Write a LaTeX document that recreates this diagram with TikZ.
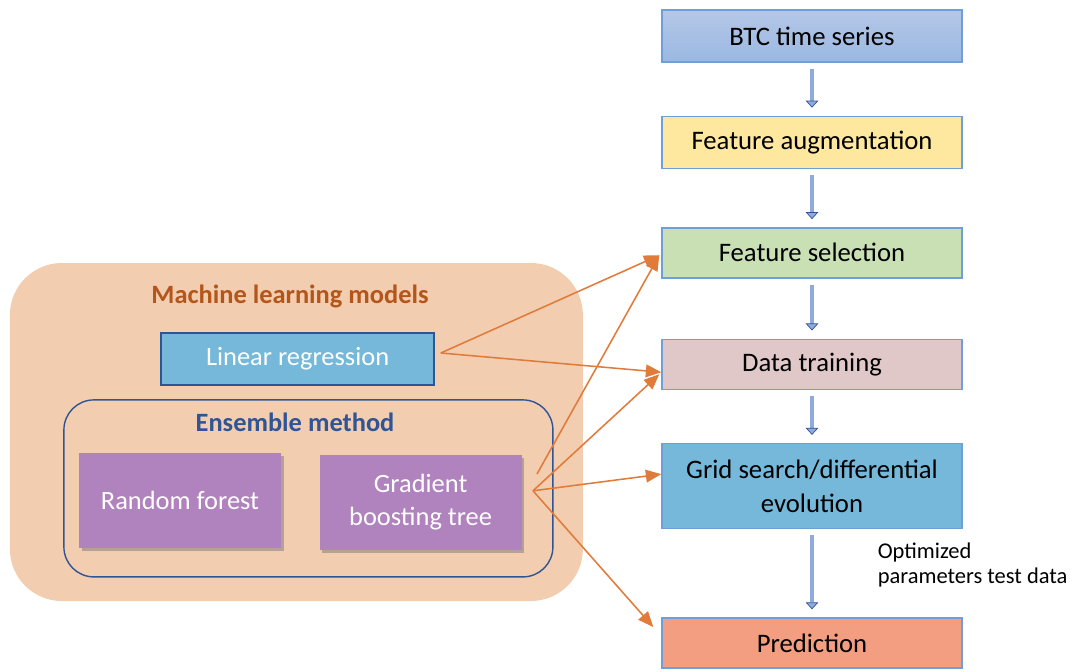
\documentclass[tikz,border=0pt]{standalone}
\usepackage{fontspec}
\setmainfont{Carlito}
\usepackage{tikz}
\usetikzlibrary{positioning,arrows.meta,shadows,calc}

\definecolor{boxline}{HTML}{6F9ED8}
\definecolor{darkblue}{HTML}{2F5597}
\definecolor{peach}{HTML}{F2CDAF}
\definecolor{lrblue}{HTML}{75B8D9}
\definecolor{purp}{HTML}{B083BE}
\definecolor{orng}{HTML}{E07B39}
\definecolor{brwn}{HTML}{B4561C}
\definecolor{arrfill}{HTML}{8FAADC}
\definecolor{btctop}{HTML}{B4C7E7}
\definecolor{btcbot}{HTML}{9BB8E2}
\definecolor{augyel}{HTML}{FEE79F}
\definecolor{selgrn}{HTML}{C9E0B5}
\definecolor{trnpnk}{HTML}{E0C8C9}
\definecolor{prdsal}{HTML}{F39E80}

\tikzset{
  step box/.style={draw=boxline, line width=1pt, minimum width=7.5cm,
    minimum height=1.3cm, align=center, font=\fontsize{19}{24}\selectfont},
  model/.style={fill=purp, minimum width=5.05cm, minimum height=2.375cm,
    align=center, text=white, font=\fontsize{18.8}{23.5}\selectfont,
    drop shadow={shadow xshift=0.07cm, shadow yshift=-0.09cm, opacity=0.55}},
  down/.style={draw=darkblue, double=arrfill, double distance=2.4pt,
    line width=0.5pt, shorten <=0.15cm, shorten >=0.2cm,
    -{Triangle[open, fill=arrfill, length=5pt, width=9pt]}},
  link/.style={orng, line width=1.1pt, -{Triangle[length=11pt, width=9pt]}}
}

\begin{document}
\begin{tikzpicture}
  \useasboundingbox (0,0) rectangle (26.8,-16.775);

  % processing chain on the right
  \node[step box, top color=btctop, bottom color=btcbot] (btc) at (20.3,-0.9) {BTC time series};
  \node[step box, fill=augyel, below=1.325cm of btc] (fa) {Feature augmentation};
  \node[step box, fill=selgrn, minimum height=1.25cm, below=1.45cm of fa] (fs) {Feature selection};
  \node[step box, fill=trnpnk, minimum height=1.25cm, below=1.5cm of fs] (dt) {Data training};
  \node[step box, fill=lrblue, minimum height=2.125cm, below=1.325cm of dt] (gs) {Grid search/differential\\evolution};
  \node[step box, fill=prdsal, minimum height=1.25cm, below=2.2cm of gs] (pred) {Prediction};
  \node[anchor=north west, align=left, font=\fontsize{16}{18}\selectfont] (opt) at (21.82,-13.45) {Optimized\\parameters test data};

  \draw[down] (btc) -- (fa);
  \draw[down] (fa) -- (fs);
  \draw[down] (fs) -- (dt);
  \draw[down] (dt) -- (gs);
  \draw[down] (gs) -- (pred);

  % models on the left
  \node[fill=peach, rounded corners=1.3cm, minimum width=14.325cm, minimum height=8.45cm] (ml) at (7.41,-10.8) {};
  \node[text=brwn, font=\bfseries\fontsize{18.8}{23}\selectfont] (mltitle) at (7.25,-7.42) {Machine learning models};
  \node[fill=lrblue, draw=darkblue, line width=1pt, minimum width=6.825cm, minimum height=1.3cm,
    text=white, font=\fontsize{18.8}{23}\selectfont] (lr) at (7.44,-8.975) {Linear regression};
  \node[draw=darkblue, line width=1pt, rounded corners=0.75cm, minimum width=12.225cm, minimum height=4.425cm] (ens) at (7.71,-12.21) {};
  \node[text=darkblue, font=\bfseries\fontsize{18.8}{23}\selectfont] (enstitle) at (7.375,-10.55) {Ensemble method};
  \node[model] (rf) at (4.5,-12.5) {Random forest};
  \node[model, right=0.95cm of rf, yshift=-0.05cm] (gbt) {Gradient\\boosting tree};

  \coordinate (lrout) at ($(lr.east)+(0.15,0.15)$);
  \coordinate (gbtA) at (13.425,-11.85);
  \coordinate (gbtB) at (13.325,-12.27);

  \draw[link] (lrout) -- ($(fs.west)+(-0.05,-0.06)$);
  \draw[link] (lrout) -- ($(dt.west)+(0,-0.2)$);
  \draw[link] (gbtA) -- ($(fs.west)+(-0.05,-0.06)$);
  \draw[link] (gbtB) -- ($(dt.west)+(-0.05,-0.25)$);
  \draw[link] (gbtB) -- ($(gs.west)+(0,0.3)$);
  \draw[link] (gbtB) -- ($(pred.west)+(-0.2,0.4)$);
\end{tikzpicture}
\end{document}
